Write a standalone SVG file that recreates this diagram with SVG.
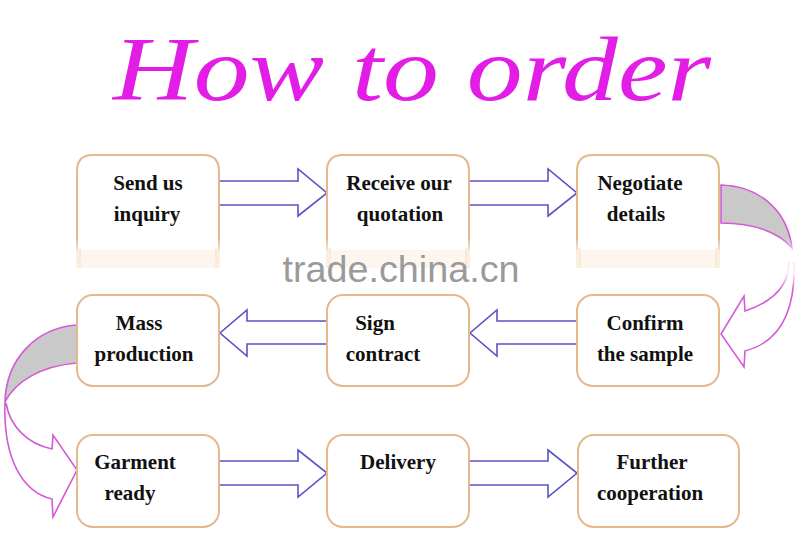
<svg xmlns="http://www.w3.org/2000/svg" width="800" height="559" viewBox="0 0 800 559">
<defs>
<style>
.box{fill:#fff;stroke:#e6b88c;stroke-width:2}
.lbl{font-family:"Liberation Serif","Times New Roman",serif;font-weight:bold;font-size:21px;fill:#111;text-anchor:middle}
.arr{fill:#fff;stroke:#5a52c8;stroke-width:1.6;stroke-linejoin:miter}
.curve{stroke:#d45ad8;stroke-width:1.6}
.smudge{fill:#fdf6ee}
.stub{fill:#f4dcc2;opacity:.45}
</style>
<linearGradient id="fade" x1="0" y1="0" x2="0" y2="1">
<stop offset="0" stop-color="#fff" stop-opacity="0"/>
<stop offset="0.3" stop-color="#fff" stop-opacity="0.85"/>
<stop offset="0.7" stop-color="#fff" stop-opacity="0.85"/>
<stop offset="1" stop-color="#fff" stop-opacity="0"/>
</linearGradient>
</defs>
<rect width="800" height="559" fill="#fff"/>
<text x="412" y="100" font-family="Liberation Serif,'Times New Roman',serif" font-style="italic" font-size="90" fill="#e21ee6" text-anchor="middle" textLength="598" lengthAdjust="spacingAndGlyphs">How to order</text>

<g id="connectors">
<path class="arr" d="M219,181 H298 V169 L327,193 L298,216 V205 H219 Z"/>
<path class="arr" d="M469,181 H548 V169 L577,193 L548,216 V205 H469 Z"/>
<path class="arr" d="M578,321 H497 V310 L470,333 L497,356 V344 H578 Z"/>
<path class="arr" d="M327,321 H247 V310 L220,333 L247,356 V344 H327 Z"/>
<path class="arr" d="M219,461 H298 V450 L327,473 L298,497 V485 H219 Z"/>
<path class="arr" d="M469,461 H548 V450 L577,473 L548,497 V485 H469 Z"/>
<path class="curve" fill="#c9c9c9" d="M721,185 C757,186 787,208 792,248 C780,234 757,223 721,223 Z"/>
<path class="curve" fill="#fff" d="M789,262 C789,286 772,302 745,311 L744,296 L721,334 L744,367 L745,351 C776,343 796,318 794,262"/>
<path class="curve" fill="#c9c9c9" d="M77,325 C35,328 6,360 5,402 C15,382 40,366 77,363 Z"/>
<path class="curve" fill="#fff" d="M6,403 C10,427 28,444 52,449 L53,435 L77,470 L53,517 L52,499 C22,492 3,458 5,402"/>
</g>

<g id="n1"><path class="box" d="M77,250 V171 Q77,155 93,155 H203 Q219,155 219,171 V250"/><text class="lbl" x="148" y="190">Send us</text><text class="lbl" x="147" y="221">inquiry</text></g>
<g id="n2"><path class="box" d="M327,250 V171 Q327,155 343,155 H453 Q469,155 469,171 V250"/><text class="lbl" x="399" y="190">Receive our</text><text class="lbl" x="400" y="221">quotation</text></g>
<g id="n3"><path class="box" d="M577,250 V171 Q577,155 593,155 H703 Q719,155 719,171 V250"/><text class="lbl" x="640" y="190">Negotiate</text><text class="lbl" x="636" y="221">details</text></g>
<g id="n4"><rect class="box" x="77" y="295" width="142" height="91" rx="16"/><text class="lbl" x="139" y="330">Mass</text><text class="lbl" x="144" y="361">production</text></g>
<g id="n5"><rect class="box" x="327" y="295" width="142" height="91" rx="16"/><text class="lbl" x="375" y="330">Sign</text><text class="lbl" x="383" y="361">contract</text></g>
<g id="n6"><rect class="box" x="577" y="295" width="142" height="91" rx="16"/><text class="lbl" x="645" y="330">Confirm</text><text class="lbl" x="645" y="361">the sample</text></g>
<g id="n7"><rect class="box" x="77" y="435" width="142" height="92" rx="16"/><text class="lbl" x="135" y="469">Garment</text><text class="lbl" x="130" y="500">ready</text></g>
<g id="n8"><rect class="box" x="327" y="435" width="142" height="92" rx="16"/><text class="lbl" x="398" y="469">Delivery</text></g>
<g id="n9"><rect class="box" x="578" y="435" width="161" height="92" rx="16"/><text class="lbl" x="652" y="469">Further</text><text class="lbl" x="650" y="500">cooperation</text></g>

<rect x="0" y="238" width="800" height="52" fill="url(#fade)"/>
<rect class="smudge" x="79" y="250" width="138" height="18"/>
<rect class="smudge" x="329" y="250" width="138" height="18"/>
<rect class="smudge" x="579" y="250" width="138" height="18"/>
<rect class="stub" x="76" y="248" width="5" height="20"/><rect class="stub" x="215" y="248" width="5" height="20"/>
<rect class="stub" x="326" y="248" width="5" height="20"/><rect class="stub" x="465" y="248" width="5" height="20"/>
<rect class="stub" x="576" y="248" width="5" height="20"/><rect class="stub" x="715" y="248" width="5" height="20"/>
<text x="401" y="282" font-family="Liberation Sans,Arial,sans-serif" font-size="36" fill="#9a9a9a" text-anchor="middle" textLength="237" lengthAdjust="spacingAndGlyphs">trade.china.cn</text>
</svg>
